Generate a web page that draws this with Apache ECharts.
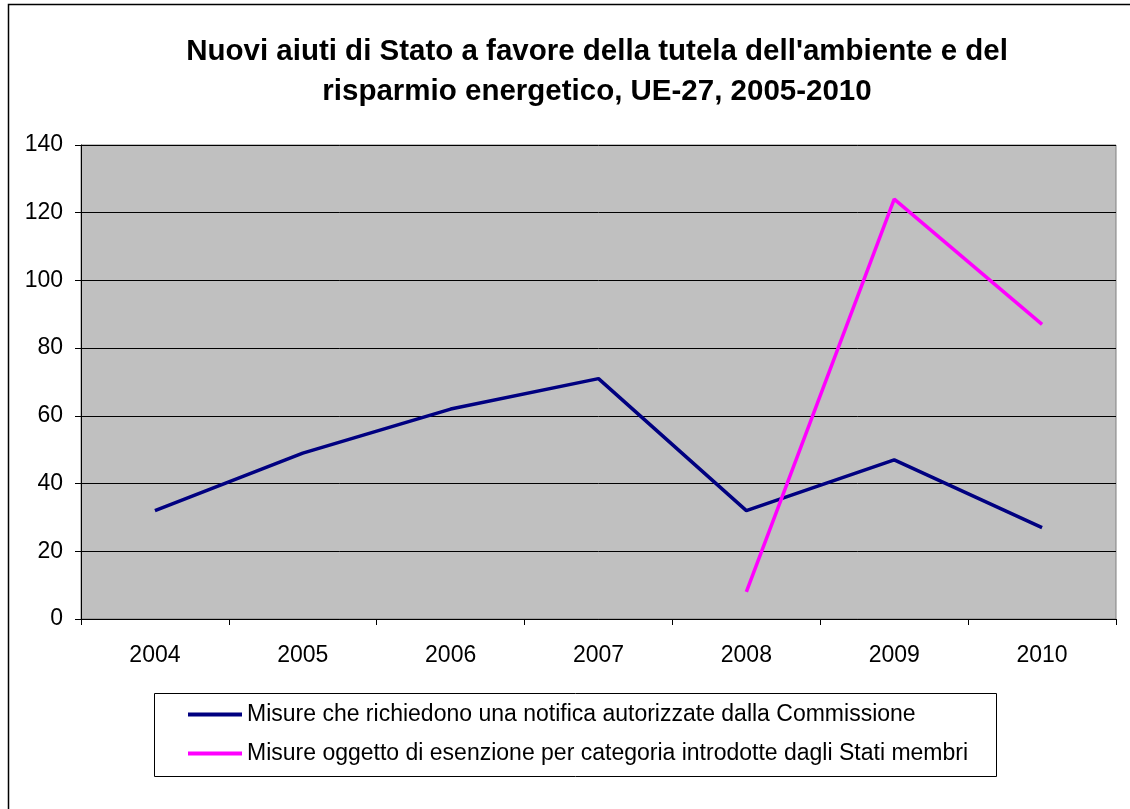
<!DOCTYPE html>
<html>
<head>
<meta charset="utf-8">
<script src="https://cdn.jsdelivr.net/npm/echarts@6/dist/echarts.min.js"></script>
<style>html,body{margin:0;padding:0;background:#fff}#c{width:1130px;height:809px}</style>
</head>
<body>
<div id="c"></div>
<script>
const categories = ['2004','2005','2006','2007','2008','2009','2010'];
const seriesNames = [
  'Misure che richiedono una notifica autorizzate dalla Commissione',
  'Misure oggetto di esenzione per categoria introdotte dagli Stati membri'
];
const notifiedValues = [32, 49, 62, 71, 32, 47, 27];
const exemptedValues = [null, null, null, null, 8, 124, 87];
const yTicks = [0, 20, 40, 60, 80, 100, 120, 140];
const titleText = "Nuovi aiuti di Stato a favore della tutela dell'ambiente e del\nrisparmio energetico, UE-27, 2005-2010";

const FONT = '"Liberation Sans", Arial, sans-serif';
const chart = echarts.init(document.getElementById('c'), null, {renderer: 'canvas'});
chart.setOption({
  backgroundColor: '#fff',
  animation: false,
  title: {
    text: titleText,
    left: 592,
    top: 27,
    textAlign: 'center',
    textStyle: {fontFamily: FONT, fontSize: 29.5, fontWeight: 'bold', color: '#000', lineHeight: 40}
  },
  graphic: [
    {type: 'rect', shape: {x: 8.5, y: 4.5, width: 1200, height: 900}, style: {fill: null, stroke: '#000', lineWidth: 1.5}, silent: true},
    {type: 'rect', shape: {x: 154.5, y: 693.5, width: 842, height: 83}, style: {fill: '#fff', stroke: '#000', lineWidth: 1}, silent: true, z: -1}
  ],
  legend: {
    orient: 'vertical',
    left: 188,
    top: 703,
    itemWidth: 54,
    itemHeight: 4,
    itemGap: 16,
    icon: 'rect',
    data: seriesNames,
    textStyle: {fontFamily: FONT, fontSize: 23, color: '#000', padding: [0, 0, 0, 0]},
    itemStyle: {borderWidth: 0},
    padding: 0
  },
  grid: {
    left: 81, top: 145, right: 14, bottom: 190,
    show: true, backgroundColor: '#c0c0c0', borderColor: '#808080', borderWidth: 1,
    containLabel: false
  },
  xAxis: {
    type: 'category',
    data: categories,
    boundaryGap: true,
    axisLine: {lineStyle: {color: '#000', width: 1}},
    axisTick: {show: true, length: 6, lineStyle: {color: '#000'}},
    axisLabel: {fontFamily: FONT, fontSize: 23, color: '#000', margin: 25},
    splitLine: {show: false}
  },
  yAxis: {
    type: 'value',
    min: yTicks[0], max: yTicks[yTicks.length - 1], interval: yTicks[1] - yTicks[0],
    axisLine: {show: true, lineStyle: {color: '#000', width: 1}},
    axisTick: {show: true, length: 6, lineStyle: {color: '#000'}},
    axisLabel: {fontFamily: FONT, fontSize: 23, color: '#000', margin: 18},
    splitLine: {show: true, lineStyle: {color: '#000', width: 1}}
  },
  series: [
    {name: seriesNames[0], type: 'line', data: notifiedValues, showSymbol: false, symbol: 'none',
     lineStyle: {color: '#000080', width: 3.5}, itemStyle: {color: '#000080'}, connectNulls: false},
    {name: seriesNames[1], type: 'line', data: exemptedValues, showSymbol: false, symbol: 'none',
     lineStyle: {color: '#ff00ff', width: 3.5}, itemStyle: {color: '#ff00ff'}, connectNulls: false}
  ]
});
</script>
</body>
</html>
